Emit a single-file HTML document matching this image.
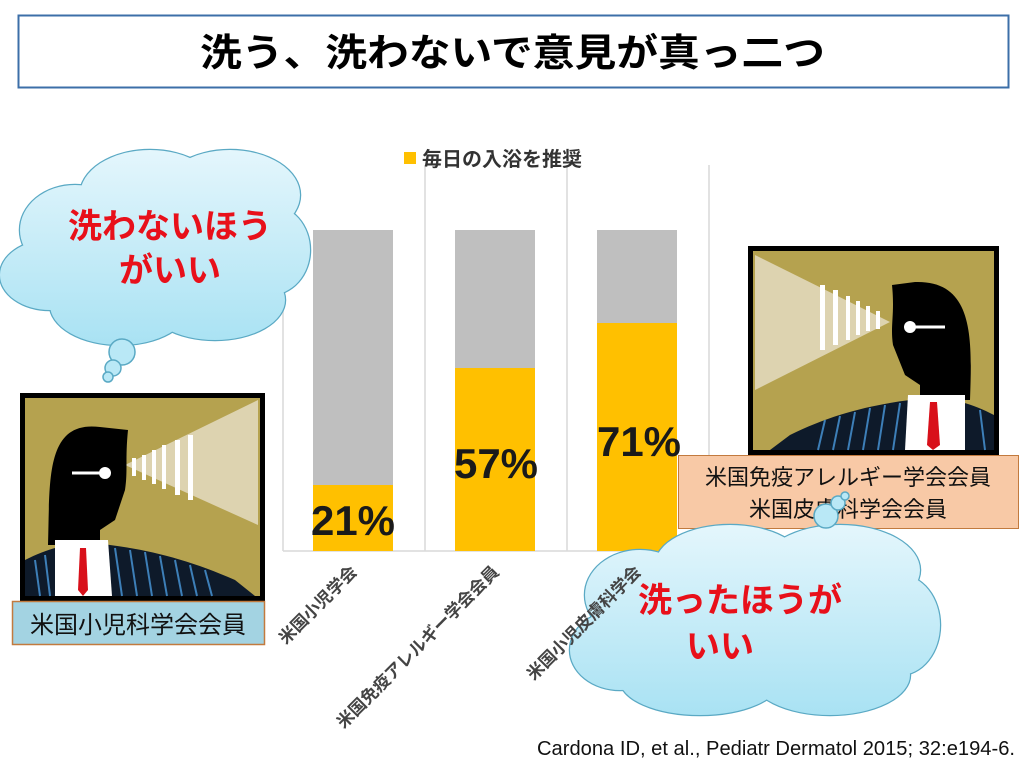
<!DOCTYPE html>
<html><head><meta charset="utf-8"><style>
body{margin:0;background:#fff}
svg{display:block}
text{font-family:"Liberation Sans","Noto Sans CJK JP",sans-serif}
</style></head><body>
<svg width="1024" height="765" viewBox="0 0 1024 765">
<defs>
<linearGradient id="cl" gradientUnits="userSpaceOnUse" x1="0" y1="150" x2="0" y2="345"><stop offset="0" stop-color="#e4f6fc"/><stop offset="1" stop-color="#a9e2f3"/></linearGradient>
<linearGradient id="cl2" gradientUnits="userSpaceOnUse" x1="0" y1="525" x2="0" y2="715"><stop offset="0" stop-color="#e4f6fc"/><stop offset="1" stop-color="#a9e2f3"/></linearGradient>
</defs>
<rect x="18.5" y="15.5" width="990" height="72" fill="#fff" stroke="#3c6fa8" stroke-width="2"/>
<text x="200" y="66" textLength="625" lengthAdjust="spacingAndGlyphs" font-size="38" font-weight="bold" fill="#000">洗う、洗わないで意見が真っ二つ</text>

<g stroke="#d9d9d9" stroke-width="1.5">
<line x1="283" y1="165" x2="283" y2="551"/><line x1="425" y1="165" x2="425" y2="551"/>
<line x1="567" y1="165" x2="567" y2="551"/><line x1="709" y1="165" x2="709" y2="551"/>
<line x1="283" y1="551" x2="709" y2="551"/>
</g>
<rect x="313" y="230" width="80" height="321" fill="#bfbfbf"/><rect x="313" y="485" width="80" height="66" fill="#ffc000"/>
<rect x="455" y="230" width="80" height="321" fill="#bfbfbf"/><rect x="455" y="368" width="80" height="183" fill="#ffc000"/>
<rect x="597" y="230" width="80" height="321" fill="#bfbfbf"/><rect x="597" y="323" width="80" height="228" fill="#ffc000"/>
<g font-size="42" font-weight="bold" fill="#1a1a1a">
<text x="311" y="535" textLength="84" lengthAdjust="spacingAndGlyphs">21%</text>
<text x="454" y="478" textLength="84" lengthAdjust="spacingAndGlyphs">57%</text>
<text x="597" y="456" textLength="84" lengthAdjust="spacingAndGlyphs">71%</text></g>
<rect x="404" y="152" width="12" height="12" fill="#ffc000"/>
<text x="422" y="166" font-size="20" font-weight="bold" fill="#333">毎日の入浴を推奨</text>
<g font-size="17" font-weight="bold" fill="#444" text-anchor="end">
<text transform="translate(358,573) rotate(-45)">米国小児学会</text>
<text transform="translate(500,573) rotate(-45)">米国免疫アレルギー学会会員</text>
</g>

<!-- left cloud -->
<g stroke="#5aa9c4" stroke-width="2.5" fill="#5aa9c4">
<ellipse cx="75" cy="230" rx="55" ry="45"/><ellipse cx="150" cy="195" rx="70" ry="45"/><ellipse cx="230" cy="195" rx="70" ry="45"/>
<ellipse cx="270" cy="250" rx="40" ry="45"/><ellipse cx="50" cy="275" rx="50" ry="35"/><ellipse cx="120" cy="305" rx="70" ry="40"/>
<ellipse cx="215" cy="300" rx="70" ry="40"/>
</g>
<g fill="url(#cl)">
<ellipse cx="75" cy="230" rx="55" ry="45"/><ellipse cx="150" cy="195" rx="70" ry="45"/><ellipse cx="230" cy="195" rx="70" ry="45"/>
<ellipse cx="270" cy="250" rx="40" ry="45"/><ellipse cx="50" cy="275" rx="50" ry="35"/><ellipse cx="120" cy="305" rx="70" ry="40"/>
<ellipse cx="215" cy="300" rx="70" ry="40"/><rect x="60" y="200" width="200" height="110"/>
</g>
<g fill="#b9e8f6" stroke="#5aa9c4" stroke-width="1.5">
<circle cx="122" cy="352" r="13"/><circle cx="113" cy="368" r="8"/><circle cx="108" cy="377" r="5"/></g>
<g font-size="34" font-weight="bold" fill="#e8101a" text-anchor="middle">
<text x="170" y="238">洗わないほう</text><text x="170" y="282">がいい</text></g>

<!-- left person -->
<g>
<rect x="20" y="393" width="245" height="208" fill="#000"/>
<rect x="25" y="398" width="235" height="198" fill="#b5a24f"/>
<polygon points="125,465 258,400 258,525" fill="#ddd3b0"/>
<g fill="#fff"><rect x="132" y="458" width="4" height="18"/><rect x="142" y="455" width="4" height="25"/><rect x="152" y="450" width="4" height="34"/><rect x="162" y="445" width="4" height="44"/><rect x="175" y="440" width="5" height="55"/><rect x="188" y="435" width="5" height="65"/></g>
<path d="M48,545 C50,480 45,420 100,427 L128,430 C125,460 128,470 125,490 L115,520 L100,530 L100,545 Z" fill="#000"/>
<path d="M25,560 C55,545 80,540 110,545 C150,550 190,560 235,580 L255,596 L25,596 Z" fill="#0e1a2a"/>
<g stroke="#3d7fb8" stroke-width="2"><line x1="35" y1="560" x2="40" y2="596"/><line x1="45" y1="555" x2="50" y2="596"/><line x1="115" y1="548" x2="122" y2="596"/><line x1="130" y1="550" x2="137" y2="596"/><line x1="145" y1="552" x2="152" y2="596"/><line x1="160" y1="556" x2="167" y2="596"/><line x1="175" y1="560" x2="182" y2="596"/><line x1="190" y1="565" x2="197" y2="596"/><line x1="205" y1="570" x2="212" y2="596"/></g>
<polygon points="55,540 108,540 112,596 55,596" fill="#fff"/>
<polygon points="80,548 86,548 88,590 83,596 78,590" fill="#d8101a"/>
<line x1="72" y1="473" x2="100" y2="473" stroke="#fff" stroke-width="3"/><circle cx="105" cy="473" r="6" fill="#fff"/>
</g>
<rect x="12.5" y="601.5" width="252" height="43" fill="#a3d3e2" stroke="#c27a3e" stroke-width="1.5"/>
<text x="138" y="633" text-anchor="middle" font-size="24" fill="#111">米国小児科学会会員</text>

<!-- right person -->
<g>
<rect x="748" y="246" width="251" height="209" fill="#000"/>
<rect x="753" y="251" width="241" height="199" fill="#b5a24f"/>
<polygon points="890,322 755,255 755,390" fill="#ddd3b0"/>
<g fill="#fff"><rect x="820" y="285" width="5" height="65"/><rect x="833" y="290" width="5" height="55"/><rect x="846" y="296" width="4" height="44"/><rect x="856" y="301" width="4" height="34"/><rect x="866" y="306" width="4" height="25"/><rect x="876" y="311" width="4" height="18"/></g>
<path d="M970,400 C972,340 975,280 915,282 L892,285 C895,315 890,325 893,345 L905,375 L920,385 L920,400 Z" fill="#000"/>
<path d="M994,415 C965,400 940,395 910,400 C870,405 830,415 790,435 L770,450 L994,450 Z" fill="#0e1a2a"/>
<g stroke="#3d7fb8" stroke-width="2"><line x1="900" y1="403" x2="893" y2="450"/><line x1="885" y1="405" x2="878" y2="450"/><line x1="870" y1="408" x2="863" y2="450"/><line x1="855" y1="412" x2="848" y2="450"/><line x1="840" y1="416" x2="833" y2="450"/><line x1="825" y1="420" x2="818" y2="450"/><line x1="980" y1="410" x2="985" y2="450"/></g>
<polygon points="908,395 965,395 965,450 905,450" fill="#fff"/>
<polygon points="930,402 937,402 940,445 933,450 927,445" fill="#d8101a"/>
<line x1="915" y1="327" x2="945" y2="327" stroke="#fff" stroke-width="3"/><circle cx="910" cy="327" r="6" fill="#fff"/>
</g>
<rect x="678.5" y="455.5" width="340" height="73" fill="#f8c9a6" stroke="#c27a3e" stroke-width="1"/>
<text x="848" y="485" text-anchor="middle" font-size="22" fill="#111">米国免疫アレルギー学会会員</text>
<text x="848" y="517" text-anchor="middle" font-size="22" fill="#111">米国皮膚科学会会員</text>

<!-- right cloud -->
<g stroke="#5aa9c4" stroke-width="2.5" fill="#5aa9c4">
<ellipse cx="640" cy="595" rx="55" ry="45"/><ellipse cx="730" cy="565" rx="75" ry="40"/><ellipse cx="840" cy="570" rx="80" ry="45"/>
<ellipse cx="900" cy="625" rx="40" ry="50"/><ellipse cx="620" cy="650" rx="50" ry="40"/><ellipse cx="700" cy="680" rx="80" ry="35"/>
<ellipse cx="830" cy="675" rx="80" ry="40"/>
</g>
<g fill="url(#cl2)">
<ellipse cx="640" cy="595" rx="55" ry="45"/><ellipse cx="730" cy="565" rx="75" ry="40"/><ellipse cx="840" cy="570" rx="80" ry="45"/>
<ellipse cx="900" cy="625" rx="40" ry="50"/><ellipse cx="620" cy="650" rx="50" ry="40"/><ellipse cx="700" cy="680" rx="80" ry="35"/>
<ellipse cx="830" cy="675" rx="80" ry="40"/><rect x="630" y="570" width="260" height="110"/>
</g>
<g fill="#b9e8f6" stroke="#5aa9c4" stroke-width="1.5">
<circle cx="826" cy="516" r="12"/><circle cx="838" cy="503" r="7"/><circle cx="845" cy="496" r="4"/></g>
<text transform="translate(642,573) rotate(-45)" text-anchor="end" font-size="17" font-weight="bold" fill="#444">米国小児皮膚科学会</text>
<g font-size="34" font-weight="bold" fill="#e8101a" text-anchor="middle">
<text x="740" y="612">洗ったほうが</text><text x="720" y="658">いい</text></g>

<text x="537" y="755" font-size="20" textLength="478" lengthAdjust="spacingAndGlyphs" fill="#111">Cardona ID, et al., Pediatr Dermatol 2015; 32:e194-6.</text>
</svg>
</body></html>
